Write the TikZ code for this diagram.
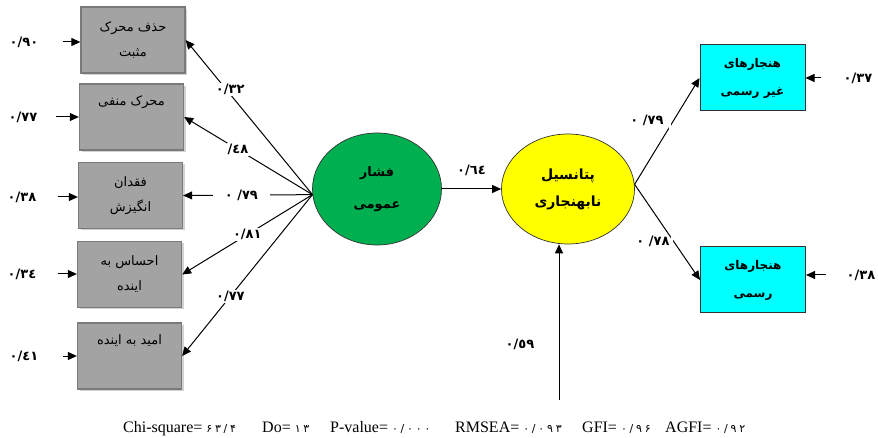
\documentclass[tikz,border=0pt]{standalone}
\usepackage{fontspec}
\setmainfont{Liberation Serif}
\newfontfamily\arabicfont[Script=Arabic]{DejaVu Sans}
\newfontfamily\digfont[LetterSpace=25]{DejaVu Sans}
\newfontfamily\lblfont{DejaVu Sans Bold}
\TeXXeTstate=1
\usetikzlibrary{arrows.meta,shapes.geometric,shadows}
\definecolor{boxgray}{HTML}{A3A3A3}
\definecolor{boxedge}{HTML}{7A7A7A}
\definecolor{lgreen}{HTML}{00B050}
\definecolor{lyellow}{HTML}{FFFF00}
\definecolor{lcyan}{HTML}{00FFFF}
\newcommand\pdig[1]{{\digfont\fontsize{11}{12}\selectfont #1}}
\newcommand\ck{\kern0pt }
\begin{document}
\begin{tikzpicture}[x=1pt,y=-1pt,
  lbox/.style={draw=boxedge, line width=1.3pt, fill=boxgray, minimum width=104pt, minimum height=66pt, inner sep=0pt,
    align=center, font=\arabicfont\fontsize{13}{25}\selectfont,
    drop shadow={shadow xshift=2pt, shadow yshift=-2pt, opacity=0.35, fill=gray}},
  rbox/.style={draw=black!80, line width=1pt, fill=lcyan, minimum width=105pt, minimum height=66pt, inner sep=0pt,
    align=center, font=\arabicfont\bfseries\fontsize{12}{28}\selectfont},
  lat/.style={ellipse, draw=black!80, line width=0.7pt, inner sep=0pt, align=center},
  conn/.style={line width=1pt, -{Triangle[length=9pt,width=8pt]}},
  lbl/.style={font=\lblfont\fontsize{13}{14}\selectfont, inner sep=1pt},
  gap/.style={fill=white, inner xsep=4pt, inner ysep=4pt},
  blank/.style={fill=white, inner sep=0pt, minimum width=2pt}
]
\useasboundingbox (0,0) rectangle (878,438);

% left indicator boxes
\node[lbox] (b1) at (133,40) {\beginR حذف محرک\endR\\\beginR مثبت\endR};
\node[lbox] (b2) at (131.5,117) {\beginR محرک منفی\endR\\\strut};
\node[lbox] (b3) at (130.5,195.5) {\beginR فقدان\endR\\\beginR انگیزش\endR};
\node[lbox] (b4) at (129.5,274.5) {\beginR احساس به\endR\\\beginR اینده\endR};
\node[lbox] (b5) at (129.5,356) {\beginR امید به اینده\endR\\\strut};

% latent variables
\node[lat, fill=lgreen, minimum width=129pt, minimum height=112pt,
  font=\arabicfont\bfseries\fontsize{13}{32}\selectfont] (g) at (377,189)
  {\beginR فشار\endR\\\beginR عمومی\endR};
\node[lat, fill=lyellow, minimum width=133pt, minimum height=110pt,
  font=\arabicfont\bfseries\fontsize{14}{27}\selectfont] (y) at (568,189)
  {\beginR پتانسیل\endR\\\beginR نابهنجاری\endR};

% right boxes
\node[rbox] (r1) at (752.5,78) {\beginR هنجارهای\endR\\\beginR غیر رسمی\endR};
\node[rbox] (r2) at (753,280) {\beginR هنجارهای\endR\\\beginR رسمی\endR};

% error labels
\node[lbl] (e1) at (24,42) {۰/۹۰};
\node[lbl] (e2) at (23,117) {۰/۷۷};
\node[lbl] (e3) at (22,197) {۰/۳۸};
\node[lbl] (e4) at (22,274) {۰/\ck ۳\ck ٤};
\node[lbl] (e5) at (24,356) {۰/\ck ٤\ck ۱};
\node[lbl] (e6) at (858,78) {۰/۳۷};
\node[lbl] (e7) at (861,275) {۰/۳۸};

\draw[conn, shorten <=24pt] (e1) -- (e1 -| b1.west);
\draw[conn, shorten <=18pt] (e2) -- (e2 -| b2.west);
\draw[conn, shorten <=21pt] (e3) -- (e3 -| b3.west);
\draw[conn, shorten <=21pt] (e4) -- (e4 -| b4.west);
\draw[conn, shorten <=24pt] (e5) -- (e5 -| b5.west);
\draw[conn, shorten <=22pt] (e6) -- (e6 -| r1.east);
\draw[conn, shorten <=20pt] (e7) -- (e7 -| r2.east);

% loadings on general strain
\draw[conn] (g.185) -- node[pos=.68, gap, lbl, xshift=4pt] {۰/۳۲} (b1.east);
\draw[conn] (g.185) -- node[pos=.58, gap, lbl] {/\ck ٤\ck ۸} (b2.east);
\draw[conn] (g.185) -- node[pos=.55, gap, lbl, inner xsep=12pt] {۰\ck\ /\ck ۷۹} (b3.east);
\draw[conn] (g.185) -- node[pos=.5, gap, lbl] {۰/۸۱} (b4.east);
\draw[conn] (g.185) -- node[pos=.63, gap, lbl] {۰/۷۷} (b5.east);

% structural path
\draw[conn] (g) -- node[lbl, midway, above=12pt] {۰/\ck ٦\ck ٤} (y);

% outcomes
\draw[conn] (y.4) -- node[pos=.55, blank, minimum height=23pt] {} (r1.west);
\draw[conn] (y.4) -- node[pos=.57, blank, minimum height=38pt] {} (r2.west);
\node[lbl] (l6) at (647,120) {۰\ck\ /\ck ۷۹};
\node[lbl] (l7) at (653,241) {۰\ck\ /\ck ۷۸};

% disturbance
\coordinate (vb) at (559,400);
\draw[conn] (vb) -- (vb |- y.south);
\node[lbl] (l8) at (520,344) {۰/\ck ٥\ck ۹};

% fit indices
\node[font=\fontsize{16}{18}\selectfont, inner sep=0pt, anchor=base west] (fit) at (123,432)
  {\makebox[139pt][l]{Chi-square= \pdig{۶۳/۴}}\makebox[68pt][l]{Do= \pdig{۱۳}}\makebox[125pt][l]{P-value= \pdig{۰/۰۰۰}}\makebox[127pt][l]{RMSEA= \pdig{۰/۰۹۳}}\makebox[83pt][l]{GFI= \pdig{۰/۹۶}}AGFI= \pdig{۰/۹۲}};
\end{tikzpicture}
\end{document}
